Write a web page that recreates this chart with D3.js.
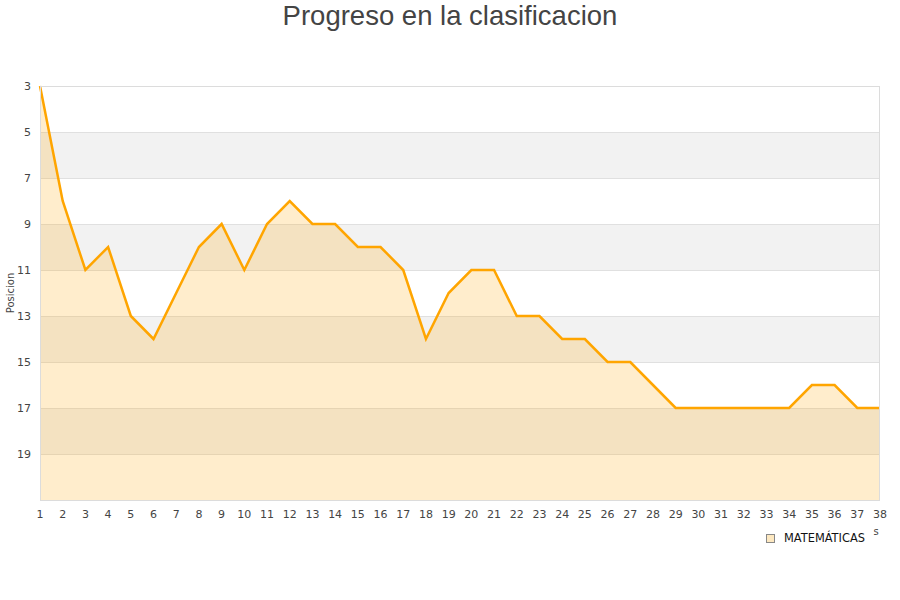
<!DOCTYPE html>
<html><head><meta charset="utf-8">
<script src="https://cdn.jsdelivr.net/npm/d3@7"></script>
<style>body{margin:0;background:#fff}svg{display:block}</style>
</head><body>
<svg id="c" width="900" height="600"></svg>
<script>
const jornadas = d3.range(1, 39);
const posiciones = [3,8,11,10,13,14,12,10,9,11,9,8,9,9,10,10,11,14,12,11,11,13,13,14,14,15,15,16,17,17,17,17,17,17,16,16,17,17];
const yTicks = [3,5,7,9,11,13,15,17,19];
const seriesName = "MATEMÁTICAS";
const titleText = "Progreso en la clasificacion";
const yTitle = "Posicion";

const svg = d3.select("#c");
const L = 40, R = 880, T = 86, B = 500;
const x = d3.scaleLinear().domain([1, 38]).range([L, R]);
const y = d3.scaleLinear().domain([3, 21]).range([T, B]);
const data = jornadas.map((j, i) => ({j, p: posiciones[i]}));

// bands
const bands = d3.range(3, 21, 2);
svg.append("g").selectAll("rect").data(bands).join("rect")
  .attr("x", L).attr("width", R - L)
  .attr("y", d => y(d)).attr("height", d => y(d + 2) - y(d))
  .attr("fill", (d, i) => i % 2 ? "#f2f2f2" : "#ffffff");

// grid lines
svg.append("g").selectAll("line").data(d3.range(3, 22, 2)).join("line")
  .attr("x1", L).attr("x2", R)
  .attr("y1", d => y(d) + 0.5).attr("y2", d => y(d) + 0.5)
  .attr("stroke", "#e0e0e0").attr("stroke-width", 1);

// area
svg.append("path").datum(data)
  .attr("d", d3.area().x(d => x(d.j)).y0(y(21)).y1(d => y(d.p)))
  .attr("fill", "rgba(255,165,0,0.2)");

// line
svg.append("path").datum(data)
  .attr("d", d3.line().x(d => x(d.j)).y(d => y(d.p)))
  .attr("fill", "none").attr("stroke", "#ffa500").attr("stroke-width", 2.5)
  .attr("stroke-linejoin", "miter");

// border
svg.append("rect").attr("x", L + 0.5).attr("y", T + 0.5)
  .attr("width", R - L - 1).attr("height", B - T)
  .attr("fill", "none").attr("stroke", "#dcdcdc");

// y tick labels
svg.append("g").selectAll("text").data(yTicks).join("text")
  .attr("x", 31).attr("y", d => y(d) + 4)
  .attr("text-anchor", "end")
  .attr("font-family", "DejaVu Sans").attr("font-size", 11).attr("fill", "#444")
  .text(d => d);

// x tick labels
svg.append("g").selectAll("text").data(jornadas).join("text")
  .attr("x", d => x(d)).attr("y", 518)
  .attr("text-anchor", "middle")
  .attr("font-family", "DejaVu Sans").attr("font-size", 11).attr("fill", "#444")
  .text(d => d);

// title
svg.append("text").attr("x", 450).attr("y", 25).attr("text-anchor", "middle")
  .attr("font-family", "Liberation Sans, Arial").attr("font-size", 27.5).attr("fill", "#444")
  .text(titleText);

// y title
svg.append("text").attr("transform", "translate(14,293) rotate(-90)")
  .attr("text-anchor", "middle")
  .attr("font-family", "DejaVu Sans").attr("font-size", 10).attr("fill", "#444")
  .text(yTitle);

// clipped x title fragment
svg.append("text").attr("x", 876).attr("y", 535).attr("text-anchor", "middle")
  .attr("font-family", "DejaVu Sans").attr("font-size", 10).attr("fill", "#444")
  .text("s");

// legend
svg.append("rect").attr("x", 766.5).attr("y", 534.5).attr("width", 8).attr("height", 8)
  .attr("fill", "#fde8c0").attr("stroke", "#888");
svg.append("text").attr("x", 784).attr("y", 542)
  .attr("font-family", "DejaVu Sans").attr("font-size", 11.4).attr("fill", "#111")
  .text(seriesName);
</script>
</body></html>
